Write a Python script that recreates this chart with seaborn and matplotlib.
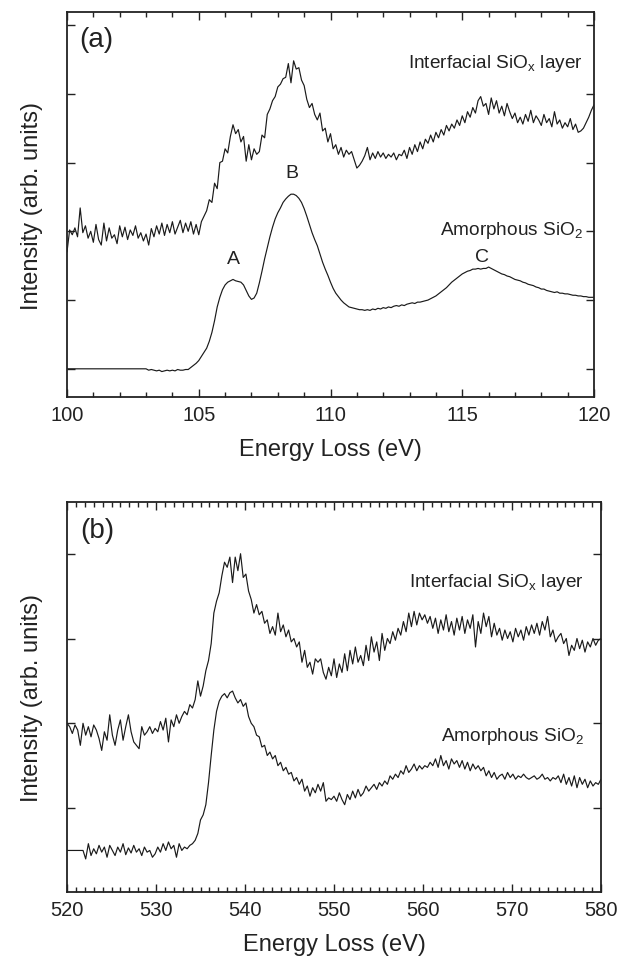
import numpy as np
import pandas as pd
import matplotlib
matplotlib.use("Agg")
import matplotlib.pyplot as plt
import seaborn as sns

# ---------------- data: panel (a) Si L-edge, 100-120 eV, step 0.1 eV ----------------
energy_a_start, energy_a_step = 100.0, 0.1
interfacial_a = [
    1.70, 2.02, 1.95, 2.05, 1.92, 2.34, 1.98, 2.08, 1.90, 2.00,
    1.84, 2.10, 1.88, 1.80, 2.12, 1.86, 2.05, 1.90, 1.95, 1.82,
    2.08, 1.92, 2.06, 1.88, 2.02, 1.94, 2.08, 1.90, 1.98, 1.86,
    1.96, 1.80, 2.04, 1.92, 2.08, 1.96, 2.12, 1.94, 2.10, 1.98,
    2.14, 1.96, 2.06, 2.16, 1.98, 2.12, 2.00, 2.14, 1.96, 2.10,
    1.95, 2.14, 2.22, 2.30, 2.46, 2.42, 2.70, 2.62, 3.00, 3.02,
    3.20, 3.14, 3.38, 3.55, 3.42, 3.48, 3.30, 3.38, 3.02, 3.26,
    3.04, 3.20, 3.12, 3.16, 3.40, 3.36, 3.70, 3.78, 3.90, 3.96,
    4.10, 4.14, 4.22, 4.24, 4.44, 4.16, 4.48, 4.36, 4.38, 4.20,
    4.12, 3.92, 3.80, 3.86, 3.70, 3.62, 3.72, 3.46, 3.50, 3.30,
    3.42, 3.20, 3.26, 3.12, 3.22, 3.08, 3.18, 3.12, 3.16, 3.04,
    2.92, 2.96, 3.02, 3.10, 3.22, 3.04, 3.14, 3.06, 3.16, 3.08,
    3.14, 3.06, 3.12, 3.08, 3.14, 3.04, 3.12, 3.10, 3.18, 3.06,
    3.22, 3.12, 3.26, 3.16, 3.30, 3.20, 3.34, 3.28, 3.40, 3.30,
    3.44, 3.36, 3.48, 3.40, 3.54, 3.46, 3.56, 3.50, 3.62, 3.54,
    3.68, 3.58, 3.74, 3.66, 3.80, 3.72, 3.90, 3.96, 3.82, 3.86,
    3.70, 3.94, 3.78, 3.90, 3.72, 3.82, 3.68, 3.86, 3.74, 3.64,
    3.72, 3.58, 3.66, 3.56, 3.70, 3.60, 3.76, 3.58, 3.68, 3.62,
    3.54, 3.70, 3.58, 3.64, 3.52, 3.74, 3.56, 3.62, 3.50, 3.58,
    3.52, 3.64, 3.48, 3.56, 3.44, 3.46, 3.50, 3.58, 3.66, 3.76,
    3.84,
]
amorphous_a = [
    0.00, 0.00, 0.00, 0.00, 0.00, 0.00, 0.00, 0.00, 0.00, 0.00,
    0.00, 0.00, 0.00, 0.00, 0.00, 0.00, 0.00, 0.00, 0.00, 0.00,
    0.00, 0.00, 0.00, 0.00, 0.00, 0.00, 0.00, 0.00, 0.00, 0.00,
    0.00, -0.02, -0.01, -0.02, -0.03, -0.02, -0.04, -0.03, -0.02, -0.03,
    -0.02, -0.03, -0.01, -0.02, -0.02, -0.01, -0.01, 0.02, 0.05, 0.08,
    0.12, 0.18, 0.24, 0.30, 0.40, 0.53, 0.70, 0.90, 1.04, 1.15,
    1.22, 1.26, 1.28, 1.30, 1.28, 1.27, 1.26, 1.22, 1.14, 1.06,
    1.01, 1.03, 1.10, 1.25, 1.42, 1.60, 1.76, 1.92, 2.06, 2.18,
    2.27, 2.34, 2.42, 2.47, 2.51, 2.54, 2.54, 2.52, 2.48, 2.42,
    2.33, 2.22, 2.10, 1.98, 1.88, 1.79, 1.67, 1.55, 1.45, 1.36,
    1.26, 1.17, 1.10, 1.05, 1.00, 0.96, 0.93, 0.90, 0.89, 0.88,
    0.87, 0.86, 0.86, 0.85, 0.86, 0.85, 0.87, 0.86, 0.88, 0.87,
    0.89, 0.88, 0.90, 0.89, 0.91, 0.92, 0.91, 0.93, 0.92, 0.94,
    0.95, 0.96, 0.95, 0.97, 0.97, 0.98, 0.99, 1.00, 1.02, 1.04,
    1.06, 1.09, 1.12, 1.15, 1.18, 1.22, 1.26, 1.29, 1.32, 1.35,
    1.38, 1.40, 1.42, 1.43, 1.45, 1.45, 1.46, 1.45, 1.46, 1.46,
    1.48, 1.46, 1.44, 1.42, 1.40, 1.38, 1.37, 1.35, 1.34, 1.32,
    1.30, 1.29, 1.28, 1.26, 1.25, 1.23, 1.22, 1.21, 1.19, 1.18,
    1.16, 1.16, 1.14, 1.13, 1.12, 1.11, 1.12, 1.10, 1.10, 1.09,
    1.09, 1.08, 1.07, 1.07, 1.06, 1.06, 1.05, 1.05, 1.04, 1.04,
    1.04,
]

# ---------------- data: panel (b) O K-edge, 520-580 eV, step 0.3 eV ----------------
energy_b_start, energy_b_step = 520.0, 0.3
interfacial_b = [
    1.00, 0.96, 0.88, 0.98, 0.92, 0.74, 1.00, 0.86, 0.96, 0.84,
    0.98, 0.92, 0.82, 0.68, 0.90, 0.80, 1.10, 0.86, 0.74, 0.92,
    1.04, 0.80, 0.96, 1.10, 0.90, 0.78, 0.74, 0.70, 0.96, 0.86,
    0.90, 0.96, 0.88, 0.94, 0.90, 1.02, 0.92, 1.06, 0.78, 1.04,
    0.96, 1.10, 1.00, 1.08, 1.14, 1.10, 1.22, 1.18, 1.28, 1.50,
    1.32, 1.44, 1.62, 1.74, 1.94, 2.30, 2.44, 2.54, 2.74, 2.90,
    2.84, 2.96, 2.66, 2.96, 2.80, 3.00, 2.72, 2.76, 2.56, 2.46,
    2.30, 2.40, 2.28, 2.32, 2.18, 2.22, 2.06, 2.14, 2.04, 2.30,
    2.08, 2.16, 2.02, 2.10, 1.96, 2.00, 1.90, 1.96, 1.72, 1.86,
    1.66, 1.72, 1.58, 1.76, 1.72, 1.76, 1.60, 1.52, 1.66, 1.56,
    1.76, 1.54, 1.70, 1.60, 1.82, 1.62, 1.86, 1.70, 1.90, 1.72,
    1.80, 1.68, 1.92, 1.74, 2.02, 1.84, 1.96, 1.74, 2.06, 1.86,
    2.00, 1.94, 2.08, 1.98, 2.12, 2.04, 2.20, 2.08, 2.30, 2.14,
    2.32, 2.16, 2.30, 2.22, 2.28, 2.18, 2.26, 2.12, 2.24, 2.06,
    2.22, 2.10, 2.28, 2.08, 2.20, 2.04, 2.24, 2.10, 2.26, 2.06,
    2.22, 2.12, 2.28, 1.90, 2.20, 2.06, 2.30, 2.14, 2.26, 2.02,
    2.18, 2.04, 2.12, 1.98, 2.10, 2.00, 2.08, 1.96, 2.12, 2.02,
    2.10, 1.98, 2.14, 2.04, 2.16, 2.06, 2.18, 2.04, 2.20, 2.10,
    2.26, 2.02, 2.10, 1.96, 2.02, 2.06, 1.94, 2.00, 1.80, 1.92,
    1.86, 2.00, 1.88, 1.98, 1.84, 1.96, 1.90, 2.00, 1.92, 1.98,
    2.00,
]
amorphous_b = [
    -0.50, -0.50, -0.50, -0.50, -0.50, -0.50, -0.50, -0.60, -0.42, -0.56,
    -0.48, -0.54, -0.44, -0.52, -0.46, -0.58, -0.44, -0.50, -0.56, -0.46,
    -0.52, -0.42, -0.55, -0.47, -0.53, -0.44, -0.52, -0.48, -0.56, -0.46,
    -0.52, -0.50, -0.58, -0.54, -0.46, -0.52, -0.42, -0.50, -0.40, -0.48,
    -0.44, -0.58, -0.42, -0.50, -0.46, -0.48, -0.44, -0.42, -0.38, -0.30,
    -0.14, -0.08, 0.04, 0.30, 0.62, 0.92, 1.14, 1.26, 1.32, 1.35,
    1.30, 1.36, 1.38, 1.30, 1.24, 1.28, 1.20, 1.24, 1.08, 1.00,
    0.96, 0.86, 0.84, 0.72, 0.74, 0.62, 0.66, 0.58, 0.62, 0.50,
    0.54, 0.44, 0.48, 0.40, 0.42, 0.32, 0.36, 0.28, 0.34, 0.20,
    0.26, 0.14, 0.24, 0.18, 0.28, 0.20, 0.30, 0.08, 0.12, 0.10,
    0.14, 0.08, 0.18, 0.10, 0.04, 0.16, 0.10, 0.20, 0.12, 0.22,
    0.14, 0.18, 0.26, 0.20, 0.24, 0.28, 0.22, 0.30, 0.26, 0.32,
    0.28, 0.38, 0.34, 0.40, 0.36, 0.44, 0.40, 0.50, 0.42, 0.46,
    0.52, 0.44, 0.50, 0.46, 0.50, 0.48, 0.54, 0.50, 0.58, 0.48,
    0.62, 0.50, 0.56, 0.46, 0.58, 0.52, 0.56, 0.48, 0.56, 0.46,
    0.54, 0.44, 0.52, 0.46, 0.50, 0.44, 0.48, 0.38, 0.44, 0.36,
    0.42, 0.34, 0.38, 0.40, 0.34, 0.42, 0.36, 0.40, 0.34, 0.38,
    0.36, 0.40, 0.36, 0.34, 0.36, 0.38, 0.34, 0.36, 0.40, 0.34,
    0.36, 0.32, 0.36, 0.34, 0.38, 0.30, 0.40, 0.28, 0.36, 0.26,
    0.38, 0.24, 0.36, 0.28, 0.34, 0.24, 0.32, 0.26, 0.30, 0.28,
    0.34,
]

panel_labels = ["(a)", "(b)"]
xlabel_text = "Energy Loss (eV)"
ylabel_text = "Intensity (arb. units)"
peak_labels = ["A", "B", "C"]
peak_pos = [(106.30, 1.60), (108.54, 2.86), (115.75, 1.64)]

energy_a = energy_a_start + energy_a_step * np.arange(len(interfacial_a))
energy_b = energy_b_start + energy_b_step * np.arange(len(interfacial_b))

df_a = pd.DataFrame({"E": np.concatenate([energy_a, energy_a]),
                     "I": interfacial_a + amorphous_a,
                     "s": ["inter"] * len(energy_a) + ["amor"] * len(energy_a)})
df_b = pd.DataFrame({"E": np.concatenate([energy_b, energy_b]),
                     "I": interfacial_b + amorphous_b,
                     "s": ["inter"] * len(energy_b) + ["amor"] * len(energy_b)})

# ---------------- style ----------------
sns.set_style("ticks")
plt.rcParams["font.family"] = ["Liberation Sans", "DejaVu Sans"]
plt.rcParams["mathtext.fontset"] = "custom"
plt.rcParams["mathtext.rm"] = "Liberation Sans"
plt.rcParams["text.color"] = "#222222"
plt.rcParams["axes.labelcolor"] = "#222222"

fig = plt.figure(figsize=(6.17, 9.62), dpi=100)
W, H = 617, 962
def add_axes(l, r, t, b):
    return fig.add_axes([l / W, 1 - b / H, (r - l) / W, (b - t) / H])

ax_a = add_axes(67, 594, 13, 398)
ax_b = add_axes(67, 601, 503, 893)

for ax, df in ((ax_a, df_a), (ax_b, df_b)):
    for s in ("inter", "amor"):
        sns.lineplot(data=df[df["s"] == s], x="E", y="I", ax=ax, color="#1a1a1a",
                     lw=0.85, estimator=None, sort=False)

def style_axes(ax, xlim, ylim, major, yticks):
    ax.set_xlim(*xlim)
    ax.set_ylim(*ylim)
    ax.set_xticks(np.arange(xlim[0], xlim[1] + 0.01, major))
    ax.set_xticks(np.arange(xlim[0], xlim[1] + 0.01, 1), minor=True)
    ax.set_yticks(yticks)
    ax.set_yticklabels([])
    ax.tick_params(axis="both", which="both", direction="in", top=True, right=True,
                   color="#222222", width=1.0)
    ax.tick_params(axis="both", which="major", length=5.5)
    ax.tick_params(axis="both", which="minor", length=3.5)
    ax.tick_params(axis="x", labelsize=14.5, pad=6, labelcolor="#222222")
    for sp in ax.spines.values():
        sp.set_visible(True)
        sp.set_linewidth(1.3)
        sp.set_color("#222222")
    ax.set_xlabel(xlabel_text, fontsize=17, labelpad=10)
    ax.set_ylabel(ylabel_text, fontsize=17, labelpad=14)

style_axes(ax_a, (100, 120), (-0.41, 5.19), 5, [0, 1, 2, 3, 4, 5])
style_axes(ax_b, (520, 580), (-0.99, 3.61), 10, [0, 1, 2, 3])

# text annotations
inter_label = r"Interfacial SiO$_{\mathregular{x}}$ layer"
amor_label = r"Amorphous SiO$_{\mathregular{2}}$"

ax_a.text(100.45, 4.80, panel_labels[0], fontsize=20, ha="left", va="center")
ax_a.text(119.58, 4.46, inter_label, fontsize=13.7, ha="right", va="center")
ax_a.text(119.58, 2.03, amor_label, fontsize=13.7, ha="right", va="center")
for lab, (x, y) in zip(peak_labels, peak_pos):
    ax_a.text(x, y, lab, fontsize=14, ha="center", va="center")

ax_b.text(521.5, 3.28, panel_labels[1], fontsize=20, ha="left", va="center")
ax_b.text(578.1, 2.67, inter_label, fontsize=13.7, ha="right", va="center")
ax_b.text(578.1, 0.85, amor_label, fontsize=13.7, ha="right", va="center")

fig.savefig("out.png", dpi=100)
